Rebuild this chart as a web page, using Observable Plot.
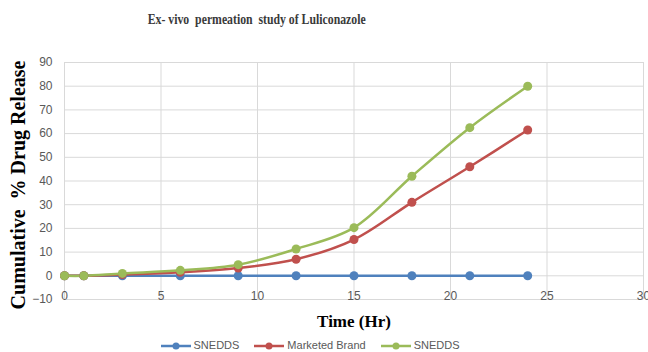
<!DOCTYPE html>
<html><head><meta charset="utf-8">
<script src="https://cdn.jsdelivr.net/npm/d3@7"></script>
<script src="https://cdn.jsdelivr.net/npm/@observablehq/plot@0.6"></script>
<style>
body{margin:0;background:#fff;width:648px;height:352px;position:relative;overflow:hidden}
#title{position:absolute;left:-134px;top:10px;width:782px;text-align:center;font-family:"Liberation Serif",serif;font-size:14px;color:#3a3a3a;font-weight:bold;height:20px;line-height:20px}
#title span{display:inline-block;transform:scaleX(0.84)}
#chart{position:absolute;left:0;top:40px}
#legend{position:absolute;left:-14px;top:339px;width:648px;height:13px;display:flex;justify-content:center;gap:15px;font-family:"Liberation Sans",sans-serif;font-size:11px;color:#595959;line-height:13px}
#legend .it{display:flex;align-items:center;gap:3px}
</style></head>
<body>
<div id="title"><span>Ex- vivo&nbsp; permeation&nbsp; study of Luliconazole</span></div>
<div id="chart"></div>
<div id="legend"></div>
<script>
const hours = [0, 1, 3, 6, 9, 12, 15, 18, 21, 24];
const sneddsA = [0, 0, 0, 0, 0, 0, 0, 0, 0, 0];
const marketed = [0, 0, 0.5, 1.5, 3.3, 7, 15.3, 31, 46, 61.5];
const sneddsB = [0, 0, 1, 2.3, 4.7, 11.3, 20.3, 42, 62.5, 80];
const seriesKeys = ["s1", "s2", "s3"];
const seriesNames = ["SNEDDS", "Marketed Brand", "SNEDDS"];
const seriesColors = ["#4f81bd", "#c0504d", "#9bbb59"];
const xTicks = [0, 5, 10, 15, 20, 25, 30];
const yTicks = [-10, 0, 10, 20, 30, 40, 50, 60, 70, 80, 90];

const values = [sneddsA, marketed, sneddsB];
const data = [];
seriesKeys.forEach((k, i) => hours.forEach((h, j) => data.push({series: k, x: h, y: values[i][j]})));

const chart = Plot.plot({
  width: 648, height: 299,
  marginTop: 22, marginBottom: 40, marginLeft: 64, marginRight: 5,
  x: {domain: [0, 30], axis: null},
  y: {domain: [-10, 90], axis: null},
  color: {domain: seriesKeys, range: seriesColors},
  style: {fontFamily: "Liberation Sans, sans-serif", fontSize: "12px", color: "#595959", background: "white", overflow: "visible"},
  marks: [
    Plot.gridX(xTicks, {stroke: "#d9d9d9", strokeOpacity: 1}),
    Plot.gridY(yTicks, {stroke: "#d9d9d9", strokeOpacity: 1}),
    Plot.axisY(yTicks, {tickSize: 0, tickPadding: 12, fontSize: 12, fill: "#595959", label: null}),
    Plot.text(xTicks, {x: d => d, y: 0, dy: 20, fill: "#595959", fontSize: 12}),
    Plot.line(data, {x: "x", y: "y", z: "series", stroke: "series", strokeWidth: 2.5, curve: "catmull-rom"}),
    Plot.dot(data, {x: "x", y: "y", fill: "series", r: 4.5}),
    Plot.text(["Cumulative\u00a0\u00a0% Drug Release"], {frameAnchor: "left", textAnchor: "middle", rotate: -90, dx: -46, dy: 4, fontSize: 20, fontWeight: "bold", fontFamily: "Liberation Serif, serif", fill: "#000", letterSpacing: 0.4}),
    Plot.text(["Time (Hr)"], {frameAnchor: "bottom", dy: 27, fontSize: 17, fontWeight: "bold", fontFamily: "Liberation Serif, serif", fill: "#000"})
  ]
});
document.getElementById("chart").appendChild(chart);

const legend = document.getElementById("legend");
seriesKeys.forEach((k, i) => {
  const it = document.createElement("div");
  it.className = "it";
  it.innerHTML = `<svg width="30" height="10"><line x1="0" x2="30" y1="5" y2="5" stroke="${seriesColors[i]}" stroke-width="2.5"/><circle cx="15" cy="5" r="3.5" fill="${seriesColors[i]}"/></svg><span>${seriesNames[i]}</span>`;
  legend.appendChild(it);
});
</script>
</body></html>
